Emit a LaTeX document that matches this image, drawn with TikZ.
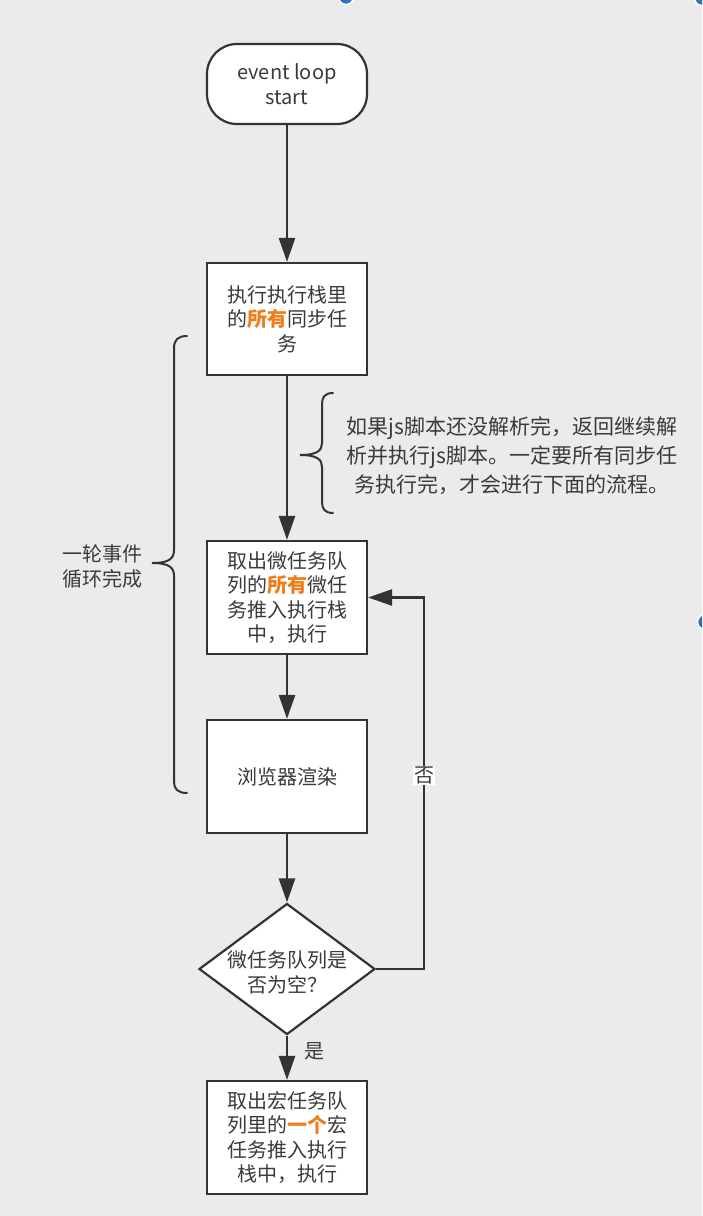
\documentclass[tikz,border=0pt]{standalone}
\usepackage{fontspec}
\setmainfont{Noto Sans CJK SC}
\usetikzlibrary{arrows.meta,shapes.geometric}
\definecolor{bg}{HTML}{EBEBEB}
\definecolor{ink}{HTML}{333333}
\definecolor{txt}{HTML}{3A3A3A}
\definecolor{hl}{HTML}{F07D1A}
\definecolor{handle}{HTML}{2F6FC8}
\newcommand{\hil}[1]{\textcolor{hl}{\textbf{#1}}}
\begin{document}
\begin{tikzpicture}[x=1pt,y=-1pt,
  every node/.style={text=txt, font=\fontsize{20}{24.5}\selectfont},
  proc/.style={draw=ink, line width=2.2pt, fill=white, minimum width=160pt, minimum height=112pt, inner sep=0pt, align=center},
  flow/.style={draw=ink, line width=2.6pt, -{Triangle[length=24pt,width=16pt]}},
  brace/.style={draw=ink, line width=2pt, line cap=round},
  lbl/.style={font=\fontsize{20}{25}\selectfont, align=center},
]
\useasboundingbox (0,0) rectangle (702,1216);
\fill[bg] (0,0) rectangle (702,1216);

% nodes
\node[proc, rounded corners=30pt, minimum height=80pt] (start) at (287,84) {event loop\\start};
\node[proc] (s1) at (287,319) {执行执行栈里\\的\hil{所有}同步任\\务};
\node[proc, minimum height=113pt] (s2) at (287,597.5) {取出微任务队\\列的\hil{所有}微任\\务推入执行栈\\中，执行};
\node[proc, minimum height=113pt] (s3) at (287,776.5) {浏览器渲染};
\node[draw=ink, line width=2.2pt, fill=white, shape=diamond, minimum width=176pt, minimum height=131pt, inner sep=0pt] (d) at (287,969) {};
\node[lbl] (dtext) at (287,972) {微任务队列是\\否为空？};
\node[proc, minimum height=113pt] (s4) at (287,1137.5) {取出宏任务队\\列里的\hil{一个}宏\\任务推入执行\\栈中，执行};

% annotations
\node[font=\fontsize{21}{29}\selectfont, align=center] (note) at (512,456) {如果js脚本还没解析完，返回继续解\\析并执行js脚本。一定要所有同步任\\务执行完，才会进行下面的流程。};
\node[lbl] (round) at (102,566) {一轮事件\\循环完成};

% connectors
\coordinate (loop) at (424,597.5);
\draw[flow] (start) -- (s1);
\draw[flow] (s1) -- (s2);
\draw[flow] (s2) -- (s3);
\draw[flow] (s3) -- (d);
\draw[flow] (d.south) -- node[pos=0.35, xshift=27pt] {是} (s4.north);
\draw[flow] (d.east) -| node[pos=0.76, fill=white, inner sep=1pt] {否} (loop) -- (s2.east);

% braces
\draw[brace] (187,336) .. controls (178,336) and (174,340) .. (174,348) -- (174,550) .. controls (174,558) and (170,563) .. (152,563) .. controls (170,563) and (174,568) .. (174,576) -- (174,782) .. controls (174,789) and (178,793) .. (187,793);
\draw[brace] (333,393) .. controls (325,393) and (322,397) .. (322,404) -- (322,443) .. controls (322,450) and (318,455) .. (300,455) .. controls (318,455) and (322,460) .. (322,467) -- (322,502) .. controls (322,509) and (325,513) .. (333,513);

% selection handles
\begin{scope}
\clip (0,0) rectangle (702,1216);
\filldraw[fill=handle, draw=white, line width=1.5pt] (346,-3) circle (7.5pt);
\filldraw[fill=handle, draw=white, line width=1.5pt] (702,-2) circle (7.5pt);
\filldraw[fill=handle, draw=white, line width=1.5pt] (705,622) circle (7.5pt);
\end{scope}
\end{tikzpicture}
\end{document}
